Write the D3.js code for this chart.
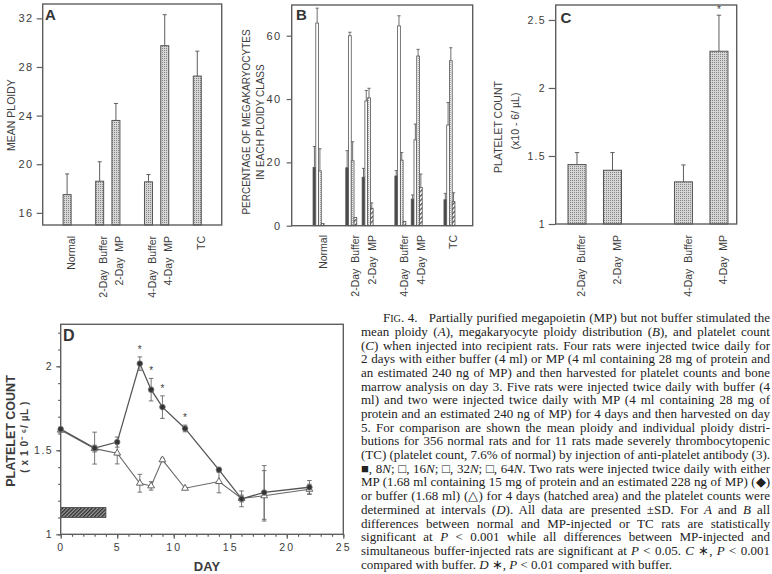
<!DOCTYPE html>
<html><head><meta charset="utf-8">
<script src="https://cdn.jsdelivr.net/npm/d3@7"></script>
<style>body{margin:0;background:#fff} svg{display:block}</style>
</head><body><svg id="c" width="772" height="574"></svg>
<script>
// ---------- DATA ----------
// Panels A / B: groups and their slot positions on the category axis
const groupsAB = ["Normal", "2-Day  Buffer", "2-Day  MP", "4-Day  Buffer", "4-Day  MP", "TC"];
const slotsAB = [0, 2, 3, 5, 6, 8];
// Panel A: mean ploidy (+SD)
const meanPloidy = [17.5, 18.6, 23.6, 18.55, 29.75, 27.25];
const meanPloidyErr = [1.7, 1.6, 1.4, 0.6, 2.55, 2.05];
const ticksA = [16, 20, 24, 28, 32];
// Panel B: % megakaryocytes per ploidy class (+SD)
const ploidyClasses = ["8N", "16N", "32N", "64N"];
const pct8N = [18.4, 18.3, 15.3, 15.7, 8.4, 8.2];
const pct16N = [64.0, 60.0, 39.4, 63.1, 27.1, 31.8];
const pct32N = [17.3, 20.5, 40.4, 20.7, 53.6, 52.1];
const pct64N = [0.7, 2.6, 5.5, 1.3, 12.1, 7.6];
const err8N = [6.6, 5.4, 2.8, 1.7, 1.3, 2.0];
const err16N = [4.7, 1.1, 3.3, 3.2, 5.0, 7.1];
const err32N = [7.0, 6.0, 3.0, 2.4, 2.1, 4.1];
const err64N = [0, 0, 1.7, 0, 4.2, 2.8];
const ticksB = [0, 20, 40, 60];
// Panel C: platelet count (+SD)
const groupsC = ["2-Day  Buffer", "2-Day  MP", "4-Day  Buffer", "4-Day  MP"];
const slotsC = [0, 1, 3, 4];
const plateletC = [1.437, 1.395, 1.31, 2.27];
const plateletCErr = [0.088, 0.13, 0.124, 0.265];
const starC = [false, false, false, true];
const ticksC = [1, 1.5, 2, 2.5];
const tickLabelsC = ["1", "1.5", "2", "2.5"];
// Panel D: platelet count time course (±SD)
const days = [0, 3, 5, 7, 8, 9, 11, 14, 16, 18, 22];
const mpCount = [1.626, 1.513, 1.549, 2.016, 1.861, 1.757, 1.630, 1.384, 1.211, 1.249, 1.280];
const mpErr = [0.01, 0.095, 0.03, 0.04, 0.067, 0.067, 0.02, 0.015, 0.047, 0.16, 0.04];
const bufCount = [1.62, 1.51, 1.483, 1.304, 1.288, 1.443, 1.274, 1.314, 1.213, 1.229, 1.268];
const bufErr = [0.01, 0.02, 0.064, 0.053, 0.025, 0.01, 0.005, 0.067, 0.02, 0.15, 0.03];
const starDays = [7, 8, 9, 11];
const injectionDays = [0, 4];
const ticksDx = [0, 5, 10, 15, 20, 25];
const ticksDy = [1, 1.5, 2];
// Caption (*...* = italic, ^...^ = small caps part)
const captionLines = [
  "F^IG^. 4.   Partially purified megapoietin (MP) but not buffer stimulated the",
  "mean ploidy (*A*), megakaryocyte ploidy distribution (*B*), and platelet count",
  "(*C*) when injected into recipient rats. Four rats were injected twice daily for",
  "2 days with either buffer (4 ml) or MP (4 ml containing 28 mg of protein and",
  "an estimated 240 ng of MP) and then harvested for platelet counts and bone",
  "marrow analysis on day 3. Five rats were injected twice daily with buffer (4",
  "ml) and two were injected twice daily with MP (4 ml containing 28 mg of",
  "protein and an estimated 240 ng of MP) for 4 days and then harvested on day",
  "5. For comparison are shown the mean ploidy and individual ploidy distri-",
  "butions for 356 normal rats and for 11 rats made severely thrombocytopenic",
  "(TC) (platelet count, 7.6% of normal) by injection of anti-platelet antibody (3).",
  "■, 8*N*; □, 16*N*; □, 32*N*; □, 64*N*. Two rats were injected twice daily with either",
  "MP (1.68 ml containing 15 mg of protein and an estimated 228 ng of MP) (◆)",
  "or buffer (1.68 ml) (△) for 4 days (hatched area) and the platelet counts were",
  "determined at intervals (*D*). All data are presented ±SD. For *A* and *B* all",
  "differences between normal and MP-injected or TC rats are statistically",
  "significant at *P* < 0.001 while all differences between MP-injected and",
  "simultaneous buffer-injected rats are significant at *P* < 0.05. *C* ∗, *P* < 0.001",
  "compared with buffer. *D* ∗, *P* < 0.01 compared with buffer."
];

// ---------- STYLE ----------
const svg = d3.select("#c");
const sans = "'Liberation Sans', Arial, Helvetica, sans-serif";
const serif = "'Liberation Serif', 'Times New Roman', serif";
const lineC = "#5e5e5e", txtC = "#3c3c3c";
svg.append("rect").attr("width", 772).attr("height", 574).attr("fill", "#fff");

const defs = svg.append("defs");
function stipple(id, bg, dot) {
  const p = defs.append("pattern").attr("id", id).attr("width", 2).attr("height", 2)
    .attr("patternUnits", "userSpaceOnUse");
  p.append("rect").attr("width", 2).attr("height", 2).attr("fill", bg);
  p.append("rect").attr("width", 1).attr("height", 1).attr("fill", dot);
}
stipple("stip", "#d6d6d6", "#858585");
stipple("stip2", "#efefef", "#a9a9a9");
function hatch(id, size, bg, fg, w) {
  const p = defs.append("pattern").attr("id", id).attr("width", size).attr("height", size)
    .attr("patternUnits", "userSpaceOnUse").attr("patternTransform", "rotate(45)");
  p.append("rect").attr("width", size).attr("height", size).attr("fill", bg);
  p.append("rect").attr("width", w).attr("height", size).attr("fill", fg);
}
hatch("hatch", 3.2, "#fff", "#555", 1.3);
hatch("dhatch", 2.6, "#9a9a9a", "#2e2e2e", 1.3);

function frame(x0, x1, y0, y1) {
  svg.append("rect").attr("x", x0).attr("y", y0).attr("width", x1 - x0).attr("height", y1 - y0)
    .attr("fill", "none").attr("stroke", lineC).attr("stroke-width", 1.4);
}
function vtext(x, y, str, size, anchor, opts = {}) {
  return svg.append("text").attr("transform", `translate(${x},${y}) rotate(-90)`)
    .attr("text-anchor", anchor).attr("font-family", sans).attr("font-size", size)
    .attr("font-weight", opts.bold ? "bold" : null)
    .attr("letter-spacing", opts.ls || null)
    .style("white-space", "pre")
    .attr("fill", txtC).text(str);
}
function styleAxis(g, fs, ls) {
  g.select(".domain").remove();
  g.selectAll(".tick line").attr("stroke", lineC).attr("stroke-width", 1.2);
  g.selectAll(".tick text").attr("font-family", sans).attr("font-size", fs)
    .attr("fill", txtC).attr("letter-spacing", ls);
}
function letter(x, y, s, size) {
  svg.append("text").attr("x", x).attr("y", y).attr("font-family", sans).attr("font-weight", "bold")
    .attr("font-size", size).attr("fill", "#333").text(s);
}

// ---------- PANEL A ----------
const A = {x0: 42.7, x1: 221.7, y0: 4, y1: 225};
const xA = d3.scaleLinear().domain([-1.5, 9.5]).range([A.x0, A.x1]);
const yA = d3.scaleLinear().domain([15, 33.18]).range([A.y1, A.y0]);
const gA = svg.append("g");
meanPloidy.forEach((v, i) => {
  const cx = xA(slotsAB[i]);
  gA.append("line").attr("x1", cx).attr("x2", cx).attr("y1", yA(v)).attr("y2", yA(v + meanPloidyErr[i]))
    .attr("stroke", lineC).attr("stroke-width", 1);
  gA.append("line").attr("x1", cx - 2).attr("x2", cx + 2).attr("y1", yA(v + meanPloidyErr[i])).attr("y2", yA(v + meanPloidyErr[i]))
    .attr("stroke", lineC).attr("stroke-width", 1);
  gA.append("rect").attr("x", cx - 4).attr("width", 8).attr("y", yA(v)).attr("height", yA(15) - yA(v))
    .attr("fill", "url(#stip)").attr("stroke", "#555").attr("stroke-width", 1);
  vtext(cx + 7.5, 236, groupsAB[i], 10.5, "end");
});
styleAxis(svg.append("g").attr("transform", `translate(${A.x0},0)`)
  .call(d3.axisLeft(yA).tickValues(ticksA).tickSize(6).tickPadding(3)), 11, 1.5);
frame(A.x0, A.x1, A.y0, A.y1);
vtext(15, 115, "MEAN PLOIDY", 10.5, "middle");
letter(45, 20, "A", 15);

// ---------- PANEL B ----------
const B = {x0: 291.7, x1: 472.7, y0: 5, y1: 225.7};
const xB = d3.scaleLinear().domain([-1.64, 9.42]).range([B.x0, B.x1]);
const yB = d3.scaleLinear().domain([0, 69.7]).range([B.y1, B.y0]);
const seriesB = [pct8N, pct16N, pct32N, pct64N];
const errB = [err8N, err16N, err32N, err64N];
const fillsB = ["#4a4a4a", "#ffffff", "url(#stip2)", "url(#hatch)"];
const bw = 2.75;
seriesB.forEach((ser, k) => {
  ser.forEach((v, i) => {
    const x = xB(slotsAB[i]) - 2 * bw + k * bw;
    const e = errB[k][i];
    if (e > 0) {
      svg.append("line").attr("x1", x + bw / 2).attr("x2", x + bw / 2).attr("y1", yB(v)).attr("y2", yB(v + e))
        .attr("stroke", lineC).attr("stroke-width", 0.9);
      svg.append("line").attr("x1", x + bw / 2 - 1.6).attr("x2", x + bw / 2 + 1.6).attr("y1", yB(v + e)).attr("y2", yB(v + e))
        .attr("stroke", lineC).attr("stroke-width", 0.9);
    }
    svg.append("rect").attr("x", x).attr("width", bw).attr("y", yB(v)).attr("height", yB(0) - yB(v))
      .attr("fill", fillsB[k]).attr("stroke", "#555").attr("stroke-width", 0.8);
  });
});
groupsAB.forEach((s, i) => vtext(xB(slotsAB[i]) + 8, 235, s, 10.5, "end"));
styleAxis(svg.append("g").attr("transform", `translate(${B.x0},0)`)
  .call(d3.axisLeft(yB).tickValues(ticksB).tickSize(5).tickPadding(5)), 11, 1.5);
frame(B.x0, B.x1, B.y0, B.y1);
vtext(250, 122, "PERCENTAGE OF MEGAKARYOCYTES", 10, "middle");
vtext(263.5, 122, "IN EACH PLOIDY CLASS", 10, "middle");
letter(296, 20, "B", 15);

// ---------- PANEL C ----------
const C = {x0: 555.7, x1: 736.7, y0: 5, y1: 224};
const xC = d3.scaleLinear().domain([-0.6, 4.5]).range([C.x0, C.x1]);
const yC = d3.scaleLinear().domain([1, 2.61]).range([C.y1, C.y0]);
plateletC.forEach((v, i) => {
  const cx = xC(slotsC[i]);
  const top = yC(v + plateletCErr[i]);
  svg.append("line").attr("x1", cx).attr("x2", cx).attr("y1", yC(v)).attr("y2", top).attr("stroke", lineC);
  svg.append("line").attr("x1", cx - 2.2).attr("x2", cx + 2.2).attr("y1", top).attr("y2", top).attr("stroke", lineC);
  svg.append("rect").attr("x", cx - 9).attr("width", 18).attr("y", yC(v)).attr("height", yC(1) - yC(v))
    .attr("fill", "url(#stip)").attr("stroke", "#555").attr("stroke-width", 1);
  if (starC[i]) svg.append("text").attr("x", cx).attr("y", top - 2).attr("text-anchor", "middle")
    .attr("font-family", sans).attr("font-size", 10).attr("fill", txtC).text("*");
  vtext(cx + 8.5, 235, groupsC[i], 10.5, "end");
});
styleAxis(svg.append("g").attr("transform", `translate(${C.x0},0)`)
  .call(d3.axisLeft(yC).tickValues(ticksC).tickFormat((d, i) => tickLabelsC[i]).tickSize(7).tickPadding(3)), 10.5, 1.2);
frame(C.x0, C.x1, C.y0, C.y1);
vtext(502, 127, "PLATELET COUNT", 10.5, "middle");
vtext(519, 121, "(x10 - 6/ µL)", 10.5, "middle");
letter(560.5, 23, "C", 15);

// ---------- PANEL D ----------
const D = {x0: 60.7, x1: 343.3, y0: 324.3, y1: 534.3};
const xD = d3.scaleLinear().domain([0, 25]).range([D.x0, D.x1]);
const yD = d3.scaleLinear().domain([1, 2.25]).range([D.y1, D.y0]);
svg.append("rect").attr("x", xD(injectionDays[0])).attr("width", xD(injectionDays[1]) - xD(injectionDays[0]))
  .attr("y", yD(1.16)).attr("height", yD(1.10) - yD(1.16))
  .attr("fill", "url(#dhatch)").attr("stroke", "#444").attr("stroke-width", 0.8);
const gxMinor = svg.append("g").attr("transform", `translate(0,${D.y1})`)
  .call(d3.axisBottom(xD).tickValues(d3.range(0, 26, 1)).tickSize(2.5).tickFormat(""));
styleAxis(gxMinor, 10, 0);
const gyMinor = svg.append("g").attr("transform", `translate(${D.x0},0)`)
  .call(d3.axisLeft(yD).tickValues(d3.range(1, 2.25, 0.1)).tickSize(2.5).tickFormat(""));
styleAxis(gyMinor, 10, 0);
styleAxis(svg.append("g").attr("transform", `translate(0,${D.y1})`)
  .call(d3.axisBottom(xD).tickValues(ticksDx).tickSize(4.5).tickPadding(5)), 10.5, 2.2);
styleAxis(svg.append("g").attr("transform", `translate(${D.x0},0)`)
  .call(d3.axisLeft(yD).tickValues(ticksDy).tickFormat(d3.format("")).tickSize(4.5).tickPadding(3)), 10.5, 1.5);
frame(D.x0, D.x1, D.y0, D.y1);

const lineGen = d3.line().x(d => xD(d[0])).y(d => yD(d[1]));
const bufPts = days.map((d, i) => [d, bufCount[i], bufErr[i]]);
const mpPts = days.map((d, i) => [d, mpCount[i], mpErr[i]]);
svg.append("path").attr("d", lineGen(bufPts)).attr("fill", "none").attr("stroke", "#666").attr("stroke-width", 1.1);
svg.append("path").attr("d", lineGen(mpPts)).attr("fill", "none").attr("stroke", "#555").attr("stroke-width", 1.3);
[bufPts, mpPts].forEach(pts => pts.forEach(p => {
  const x = xD(p[0]), t = yD(p[1] + p[2]), b = yD(p[1] - p[2]);
  svg.append("line").attr("x1", x).attr("x2", x).attr("y1", t).attr("y2", b).attr("stroke", "#666").attr("stroke-width", 0.9);
  [t, b].forEach(y => svg.append("line").attr("x1", x - 2.3).attr("x2", x + 2.3).attr("y1", y).attr("y2", y)
    .attr("stroke", "#666").attr("stroke-width", 0.9));
}));
bufPts.forEach(p => svg.append("path").attr("d", d3.symbol(d3.symbolTriangle, 20)())
  .attr("transform", `translate(${xD(p[0])},${yD(p[1])})`).attr("fill", "#fff").attr("stroke", "#555").attr("stroke-width", 0.9));
mpPts.forEach(p => svg.append("circle").attr("cx", xD(p[0])).attr("cy", yD(p[1])).attr("r", 2.8)
  .attr("fill", "#333").attr("stroke", "#777").attr("stroke-width", 0.8));
starDays.forEach(d => {
  const i = days.indexOf(d);
  svg.append("text").attr("x", xD(d)).attr("y", yD(mpCount[i] + mpErr[i]) - 4).attr("text-anchor", "middle")
    .attr("font-family", sans).attr("font-size", 10).attr("fill", txtC).text("*");
});
vtext(14.5, 431, "PLATELET COUNT", 12.5, "middle", {bold: true});
vtext(28, 437, "( x 1 0⁻ ⁶/ µL )", 10, "middle", {bold: true, ls: 0.6});
svg.append("text").attr("x", 207).attr("y", 571).attr("text-anchor", "middle").attr("font-family", sans)
  .attr("font-weight", "bold").attr("font-size", 13).attr("fill", txtC).text("DAY");
letter(63, 341, "D", 16);

// ---------- CAPTION ----------
const capLeft = 361, capRight = 770, capTop = 322.3, capStep = 13.68, capFs = 13;
captionLines.forEach((ln, i) => {
  const x0 = i === 0 ? 383 : capLeft;
  const t = svg.append("text").attr("x", x0).attr("y", capTop + i * capStep)
    .attr("font-family", serif).attr("font-size", capFs).attr("fill", "#222")
    .style("white-space", "pre");
  ln.split(/(\*[^*]+\*|\^[^^]+\^)/).filter(s => s.length).forEach(seg => {
    if (seg[0] === "*") t.append("tspan").attr("font-style", "italic").text(seg.slice(1, -1));
    else if (seg[0] === "^") t.append("tspan").attr("font-size", capFs * 0.78).text(seg.slice(1, -1));
    else t.append("tspan").text(seg);
  });
  if (i < captionLines.length - 1) {
    const len = t.node().getComputedTextLength();
    const spaces = (ln.match(/ /g) || []).length;
    const ws = (capRight - x0 - len) / spaces;
    t.style("word-spacing", ws + "px");
  }
});
</script></body></html>
